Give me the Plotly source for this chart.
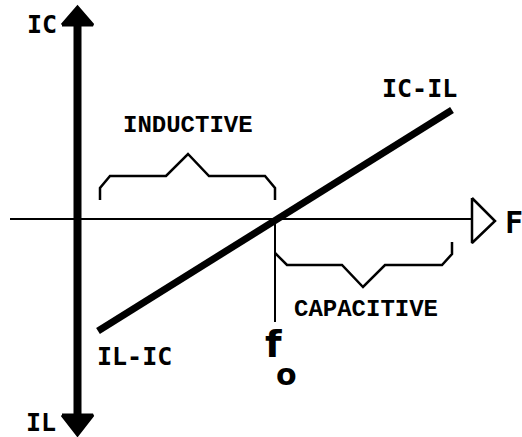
"""Series resonance sketch: net reactive current IC-IL against frequency F."""

import plotly.graph_objects as go

# ── Diagram data (drawing units: x to the right, y downward) ────────────────

# current axis (IC up, IL down) and frequency axis
CURRENT_AXIS_X = [77.5, 77.5]
CURRENT_AXIS_Y = [22, 418]
FREQ_AXIS_X = [10, 472]
FREQ_AXIS_Y = [219, 219]

# arrow heads
IC_HEAD_X = [62, 77.5, 93, 62]
IC_HEAD_Y = [25, 7, 25, 25]
IL_HEAD_X = [62, 77.5, 93, 62]
IL_HEAD_Y = [415, 435, 415, 415]
F_HEAD_X = [472, 495, 472, 472]
F_HEAD_Y = [198, 221, 243, 198]

# net current IC - IL
NET_X = [98, 452]
NET_Y = [331, 110]

# resonant frequency marker
F0_X = [275, 275]
F0_Y = [219, 322]

# region braces
INDUCTIVE_X = [100, 100, 110, 166, 188, 209, 265, 275, 275]
INDUCTIVE_Y = [200, 188, 176, 176, 154, 176, 176, 188, 200]
CAPACITIVE_X = [275, 287, 342, 363, 385, 442, 452, 452]
CAPACITIVE_Y = [253, 265, 265, 287, 265, 265, 254, 242]

# labels: (text, x, y, size, font)
BOLD_FONT = "DejaVu Sans Mono"
MONO_FONT = "Liberation Mono"
LABELS = [
    ("IC", 42, 24, 25, BOLD_FONT),
    ("IL", 41, 422, 25, BOLD_FONT),
    ("IC-IL", 419, 88, 25, BOLD_FONT),
    ("IL-IC", 134, 356, 25, BOLD_FONT),
    ("F", 514, 222, 30, BOLD_FONT),
    ("INDUCTIVE", 188, 125, 24, MONO_FONT),
    ("CAPACITIVE", 366, 309, 24, MONO_FONT),
    ("f", 273, 344, 38, "DejaVu Sans"),
    ("o", 286, 374, 30, "DejaVu Sans"),
]

INK = "#000000"

fig = go.Figure()


def add_line(x, y, width, fill=False):
    fig.add_trace(go.Scatter(
        x=x, y=y, mode="lines",
        line=dict(color=INK, width=width),
        fill="toself" if fill else None,
        fillcolor=INK if fill else None,
        hoverinfo="skip",
    ))


add_line(FREQ_AXIS_X, FREQ_AXIS_Y, 2)
add_line(F_HEAD_X, F_HEAD_Y, 2.5)
add_line(CURRENT_AXIS_X, CURRENT_AXIS_Y, 8)
add_line(IC_HEAD_X, IC_HEAD_Y, 3, fill=True)
add_line(IL_HEAD_X, IL_HEAD_Y, 3, fill=True)
add_line(F0_X, F0_Y, 2)
add_line(INDUCTIVE_X, INDUCTIVE_Y, 2.5)
add_line(CAPACITIVE_X, CAPACITIVE_Y, 2.5)
add_line(NET_X, NET_Y, 7)

for text, x, y, size, family in LABELS:
    fig.add_annotation(
        x=x, y=y, text=f"<b>{text}</b>",
        showarrow=False, xanchor="center", yanchor="middle",
        font=dict(family=family, size=size, color=INK),
    )

fig.update_layout(
    width=522,
    height=437,
    margin=dict(t=0, b=0, l=0, r=0),
    showlegend=False,
    paper_bgcolor="white",
    plot_bgcolor="white",
    xaxis=dict(range=[0, 522], visible=False, fixedrange=True),
    yaxis=dict(range=[437, 0], visible=False, fixedrange=True),
)

# page body margin would otherwise push the drawing off by a few pixels
fig.write_html(
    "out.html",
    config={"displayModeBar": False},
    post_script="document.body.style.margin='0';",
)
